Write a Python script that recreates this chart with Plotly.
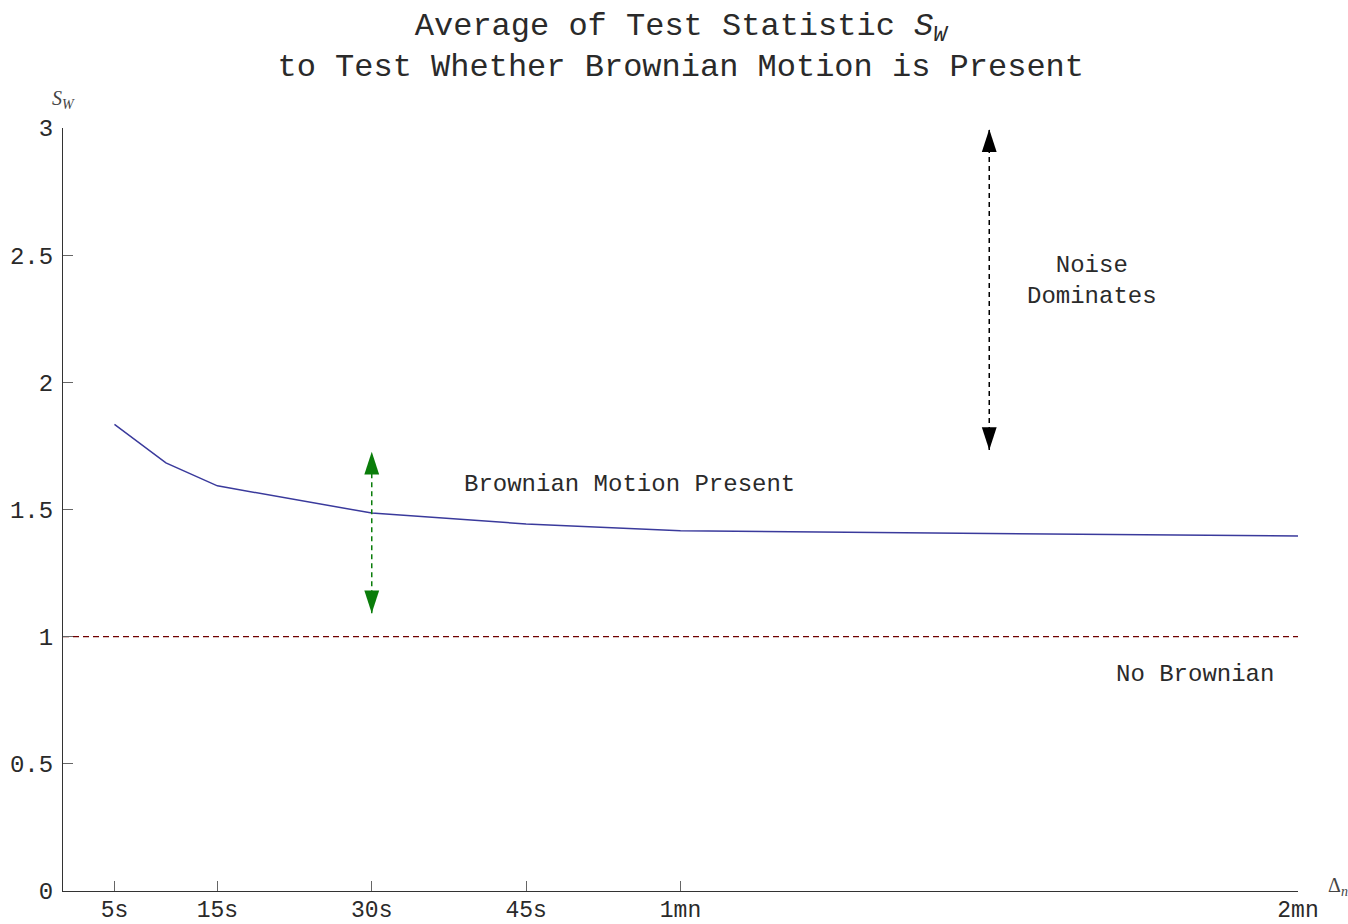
import plotly.graph_objects as go

# ---- data ----
lag_seconds = [5, 10, 15, 30, 45, 60, 120]
sw_average = [1.835, 1.683, 1.593, 1.486, 1.443, 1.416, 1.396]

x_tick_vals = [5, 15, 30, 45, 60, 120]
x_tick_text = ["5s", "15s", "30s", "45s", "1mn", "2mn"]
y_tick_vals = [0, 0.5, 1, 1.5, 2, 2.5, 3]
y_tick_text = ["0", "0.5", "1", "1.5", "2", "2.5", "3"]

reference_x = [0, 120]
reference_y = [1, 1]

green_arrow_x = [30, 30]
green_arrow_y = [1.092, 1.727]
black_arrow_x = [90, 90]
black_arrow_y = [1.734, 2.995]

region_labels = ["Brownian Motion Present", "Noise<br>Dominates", "No Brownian"]
region_label_x = [55, 100, 110]
region_label_y = [1.60, 2.40, 0.85]

FONT = "Liberation Mono, Courier New, monospace"
TEXT_COL = "#2a2a2a"

fig = go.Figure()

fig.add_trace(go.Scatter(
    x=reference_x, y=reference_y, mode="lines",
    line=dict(color="#700000", width=1.3, dash="6px,4px"),
    hoverinfo="skip", showlegend=False,
))

fig.add_trace(go.Scatter(
    x=lag_seconds, y=sw_average, mode="lines",
    line=dict(color="#3a3a9c", width=1.5),
    showlegend=False,
))

for ax_, ay_, col in [(green_arrow_x, green_arrow_y, "#0a7d0a"),
                      (black_arrow_x, black_arrow_y, "#000000")]:
    fig.add_trace(go.Scatter(
        x=ax_, y=ay_, mode="lines+markers",
        line=dict(color=col, width=1.5, dash="5px,4px"),
        marker=dict(symbol="arrow", size=24, color=col, angle=[180, 0],
                    line=dict(width=0)),
        hoverinfo="skip", showlegend=False,
    ))

for txt, lx, ly in zip(region_labels, region_label_x, region_label_y):
    fig.add_annotation(x=lx, y=ly, text=txt, showarrow=False,
                       font=dict(family=FONT, size=24, color=TEXT_COL),
                       xanchor="center", yanchor="middle")

# axis labels
fig.add_annotation(xref="paper", yref="paper", x=0.0, y=1.037,
                   text="<i>S</i><sub><i>W</i></sub>", showarrow=False,
                   font=dict(family="Liberation Serif, serif", size=20, color="#444444"),
                   xanchor="center", yanchor="middle")
fig.add_annotation(xref="paper", yref="paper", x=1.032, y=0.006,
                   text="Δ<sub><i>n</i></sub>", showarrow=False,
                   font=dict(family="Liberation Serif, serif", size=20, color="#444444"),
                   xanchor="center", yanchor="middle")

fig.update_layout(
    width=1348, height=924,
    margin=dict(l=63, r=50, t=128, b=33, autoexpand=False),
    paper_bgcolor="white", plot_bgcolor="white",
    title=dict(
        text="Average of Test Statistic <i>S</i><sub><i>W</i></sub><br>to Test Whether Brownian Motion is Present",
        x=0.505, xanchor="center", y=0.9625, yanchor="middle",
        font=dict(family=FONT, size=32, color=TEXT_COL),
    ),
    font=dict(family=FONT, size=24, color=TEXT_COL),
)

fig.update_xaxes(
    range=[0, 120], tickvals=x_tick_vals, ticktext=x_tick_text,
    showline=True, linecolor="#333333", linewidth=1.2,
    ticks="inside", ticklen=10, tickcolor="#666666", tickwidth=1,
    showgrid=False, zeroline=False, automargin=False,
    ticklabelstandoff=-3,
    tickfont=dict(family=FONT, size=23, color=TEXT_COL),
)
fig.update_yaxes(
    range=[0, 3], tickvals=y_tick_vals, ticktext=y_tick_text,
    showline=True, linecolor="#333333", linewidth=1.2,
    ticks="inside", ticklen=10, tickcolor="#666666", tickwidth=1,
    showgrid=False, zeroline=False, automargin=False,
    ticklabelstandoff=4,
    tickfont=dict(family=FONT, size=24, color=TEXT_COL),
)

fig.write_html("out.html", config={"displayModeBar": False},
               post_script="document.body.style.margin='0';")
